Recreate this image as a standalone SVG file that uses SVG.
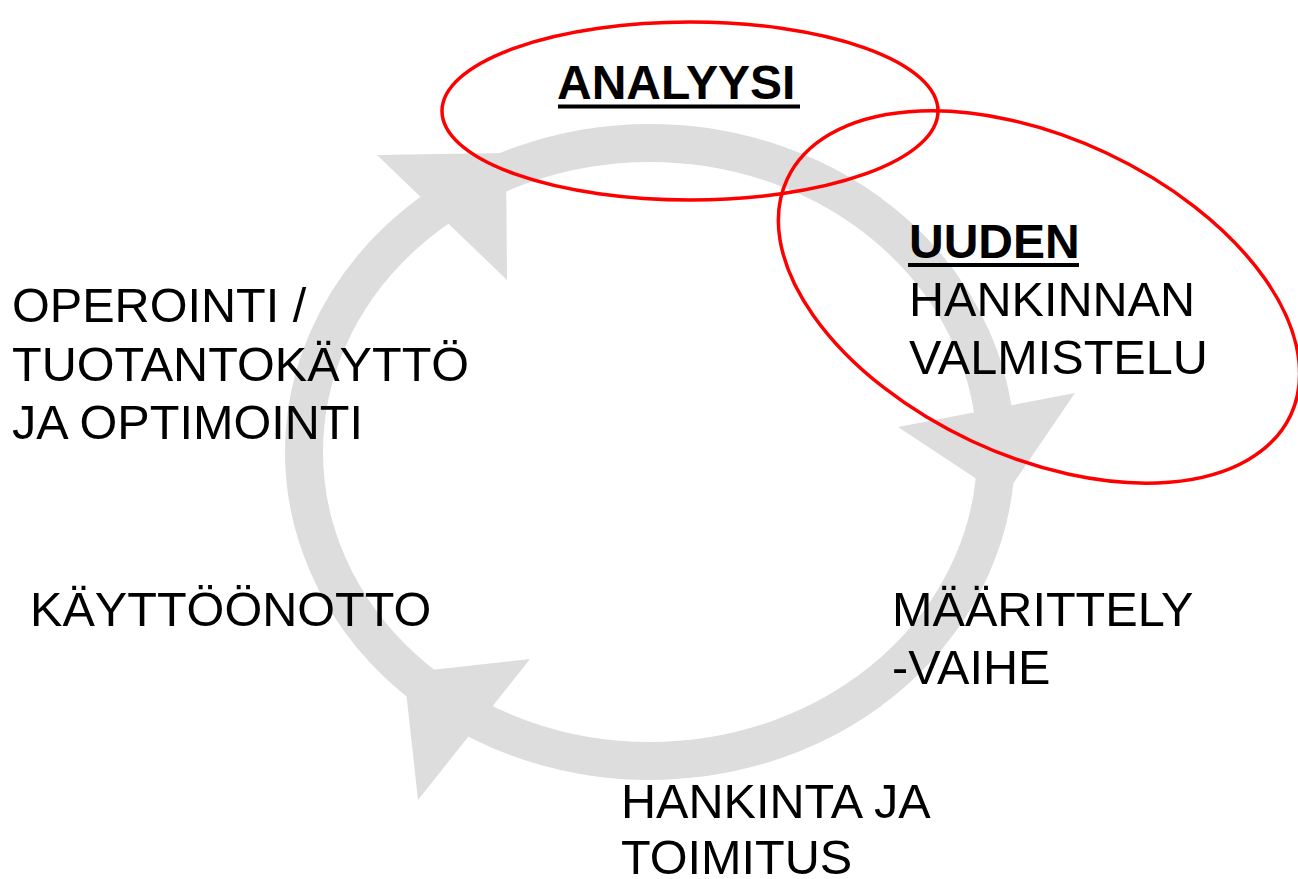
<svg xmlns="http://www.w3.org/2000/svg" width="1298" height="879" viewBox="0 0 1298 879">
<style>
.t{font-family:"Liberation Sans",Arial,sans-serif;font-size:48.6px;fill:#000}
.b{font-weight:bold;font-size:48px}
.ring{fill:none;stroke:#DDDDDD;stroke-width:38}
.head{fill:#DDDDDD}
.hl{fill:none;stroke:#FF0000;stroke-width:3.5}
</style>
<rect width="1298" height="879" fill="#fff"/>
<g id="connectors">
<ellipse class="ring" cx="650" cy="452" rx="346" ry="309"/>
<polygon class="head" points="377,155 507,280 506,153"/>
<polygon class="head" points="898,427 1075,393 1004,497"/>
<polygon class="head" points="530,659 418,800 404,673"/>
</g>
<g id="analyysi">
<ellipse class="hl" cx="690" cy="111" rx="248" ry="89"/>
<text class="t b" x="557" y="99">ANALYYSI</text>
<rect x="558" y="104.5" width="242" height="4" fill="#000"/>
</g>
<g id="uuden">
<ellipse class="hl" cx="1039" cy="297" rx="278" ry="159" transform="rotate(25.1 1039 297)"/>
<text class="t b" x="909" y="258">UUDEN</text>
<rect x="908" y="263" width="171" height="4" fill="#000"/>
<text class="t" x="909" y="316">HANKINNAN</text>
<text class="t" x="909" y="374">VALMISTELU</text>
</g>
<g id="operointi">
<text class="t" x="12" y="322">OPEROINTI /</text>
<text class="t" x="12" y="381">TUOTANTOKÄYTTÖ</text>
<text class="t" x="12" y="439">JA OPTIMOINTI</text>
</g>
<g id="kayttoonotto">
<text class="t" x="30" y="626">KÄYTTÖÖNOTTO</text>
</g>
<g id="maarittely">
<text class="t" x="892" y="626">MÄÄRITTELY</text>
<text class="t" x="892" y="684">-VAIHE</text>
</g>
<g id="hankinta">
<text class="t" x="621" y="818">HANKINTA JA</text>
<text class="t" x="621" y="874">TOIMITUS</text>
</g>
</svg>
